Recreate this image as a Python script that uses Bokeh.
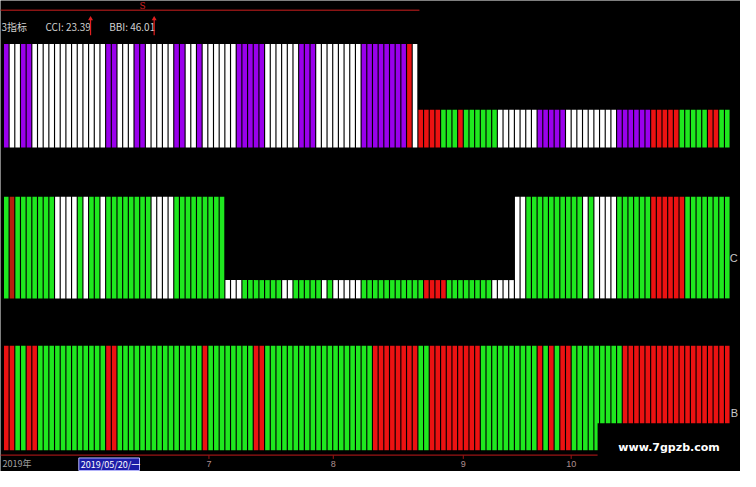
from bokeh.plotting import figure
from bokeh.models import Range1d, ColumnDataSource
from bokeh.core.properties import value
from bokeh.embed import file_html
from bokeh.resources import INLINE

# ---------------- data ----------------
# one signal per trading day, 128 days; letters are colour categories
# P = purple, W = white, R = red, G = green, D = dark red
row1_signal = list("".join("""
P WW PP WWWWWWWWWWWWW PP WWW PP WWWWW PP WW P WWWWWW PPPPP WWWWWW PPP
WWWWWWWW PPPPPPPP R W RRRR GGG R GGGGGG WWWWWWW PPPPP WWWWWWWWW PPPPPP
RRRRR GGGGG RR GG""".split()))
# H = full bar, L = short bar
row1_level = list("".join("""
HHHHHHHHHH HHHHHHHHHH HHHHHHHHHH HHHHHHHHHH HHHHHHHHHH HHHHHHHHHH HHHHHHHHHH HHH
LLLLLLLLLL LLLLLLLLLL LLLLLLLLLL LLLLLLLLLL LLLLLLLLLL LLLLL""".split()))

row2_signal = list("".join("""
G D GGGGGGG WWWW G W GG W GGGGGGGG WWWW GGGGGGGGG
WWW GGGGGGG WW GGGGG W G WWWWW GGGGGGGGGGG RRRR GGGGGGGG WWWW
WW GGGGGGGGGG W G WWWW GGGGGG RRRRRR GGGGGGGG""".split()))
row2_level = list("".join("""
HHHHHHHHHH HHHHHHHHHH HHHHHHHHHH HHHHHHHHH
LLLLLLLLLL LLLLLLLLLL LLLLLLLLLL LLLLLLLLLL LLLLLLLLLL L
HHHHHHHHHH HHHHHHHHHH HHHHHHHHHH HHHHHHHH""".split()))

row3_signal = list("".join("""
RR GG RR GGGGGGGGGGGG RR GGGGGGGGGGGGGGG R GGGGGGGG RR GGGGGGGGGGGGGGGGGGG
RRRRRRRR GG RRRRRRRRR GGGGGGGGGG R G R G RR GGGGGGGGG RRRRRRRRRRRRRRRRRRR""".split()))
row3_level = ["H"] * len(row3_signal)

days = list(range(len(row1_signal)))

header_labels = ["3指标", "CCI: 23.39", "BBI: 46.01"]
month_labels = ["7", "8", "9", "10"]
month_days = [35.7, 57.6, 80.5, 99.5]
date_label = "2019年"
cursor_label = "2019/05/20/一"
watermark = "www.7gpzb.com"

# ---------------- styles ----------------
palette = {"P": "#9a00ec", "W": "#ffffff", "R": "#ec1212", "G": "#1fe81f", "D": "#b8200e"}

W, H = 740, 471


def gx(px):
    # reference pixel -> day axis
    return (px - 5.9) / 5.8


p = figure(width=W, height=H, output_backend="svg", toolbar_location=None,
           x_range=Range1d(gx(0), gx(756)), y_range=Range1d(487, 0),
           min_border=0, background_fill_color="black", border_fill_color="black",
           outline_line_color=None)
p.axis.visible = False
p.grid.visible = False

# bands: (signals, levels, bottom, full height, short fraction)
bands = [
    (row1_signal, row1_level, 152, 107, 0.364),
    (row2_signal, row2_level, 308, 105, 0.18),
    (row3_signal, row3_level, 465, 108, 1.0),
]
for sig, lev, bottom, full, short in bands:
    tops = [bottom - full * (1.0 if l == "H" else short) for l in lev]
    src = ColumnDataSource(dict(x=days, top=tops, bottom=[bottom] * len(days),
                                color=[palette[s] for s in sig]))
    p.vbar(x="x", width=0.8, top="top", bottom="bottom", fill_color="color",
           line_color=None, source=src)

# header
p.segment(x0=[gx(0)], y0=[10], x1=[gx(428)], y1=[10], line_color="#8a1414", line_width=1.5)
p.text(x=[gx(142)], y=[6], text=["S"], text_color="#d02020", text_font_size="9px",
       text_baseline="middle", text_font=value("DejaVu Serif"))
p.text(x=[gx(1), gx(46), gx(111)], y=[27, 27, 27], text=header_labels,
       text_color="#d0d0d0", text_font_size="10px", text_baseline="middle",
       text_font=value("Noto Sans CJK SC"))
p.segment(x0=[gx(92), gx(157)], y0=[36, 36], x1=[gx(92), gx(157)], y1=[19, 19],
          line_color="#e02020", line_width=1.2)
p.scatter(x=[gx(92), gx(157)], y=[19, 19], marker="triangle", size=5,
          fill_color="#e02020", line_color=None)

# right side labels
p.text(x=[gx(745), gx(746)], y=[266, 426], text=["C", "B"], text_color="#c8c8c8",
       text_font_size="11px", text_baseline="middle", text_font=value("Liberation Sans"))

# bottom time axis
p.segment(x0=[gx(0)], y0=[470], x1=[gx(612)], y1=[470], line_color="#9a1414", line_width=1.2)
p.segment(x0=month_days, y0=[470] * 4, x1=month_days, y1=[474] * 4,
          line_color="#9a1414", line_width=1)
p.text(x=month_days, y=[479] * 4, text=month_labels, text_color="#b09090",
       text_font_size="9px", text_baseline="middle", text_align="center",
       text_font=value("Liberation Sans"))
p.text(x=[gx(2)], y=[479], text=[date_label], text_color="#a0a0a0",
       text_font_size="9px", text_baseline="middle", text_font=value("Noto Sans CJK SC"))
p.quad(left=[gx(80)], right=[gx(142)], top=[473], bottom=[486],
       fill_color="#1c1ca8", line_color="#b8b8ff", line_width=1)
p.text(x=[gx(82)], y=[479.5], text=[cursor_label], text_color="#ffffff",
       text_font_size="9px", text_baseline="middle", text_font=value("Noto Sans CJK SC"))

# watermark
p.quad(left=[gx(610)], right=[gx(756)], top=[437], bottom=[487],
       fill_color="black", line_color=None)
p.text(x=[gx(683)], y=[462], text=[watermark], text_color="#ffffff",
       text_font_size="11px", text_font_style="bold", text_align="center",
       text_baseline="middle", text_font=value("DejaVu Sans"))

open("out.html", "w").write(file_html(p, INLINE))
